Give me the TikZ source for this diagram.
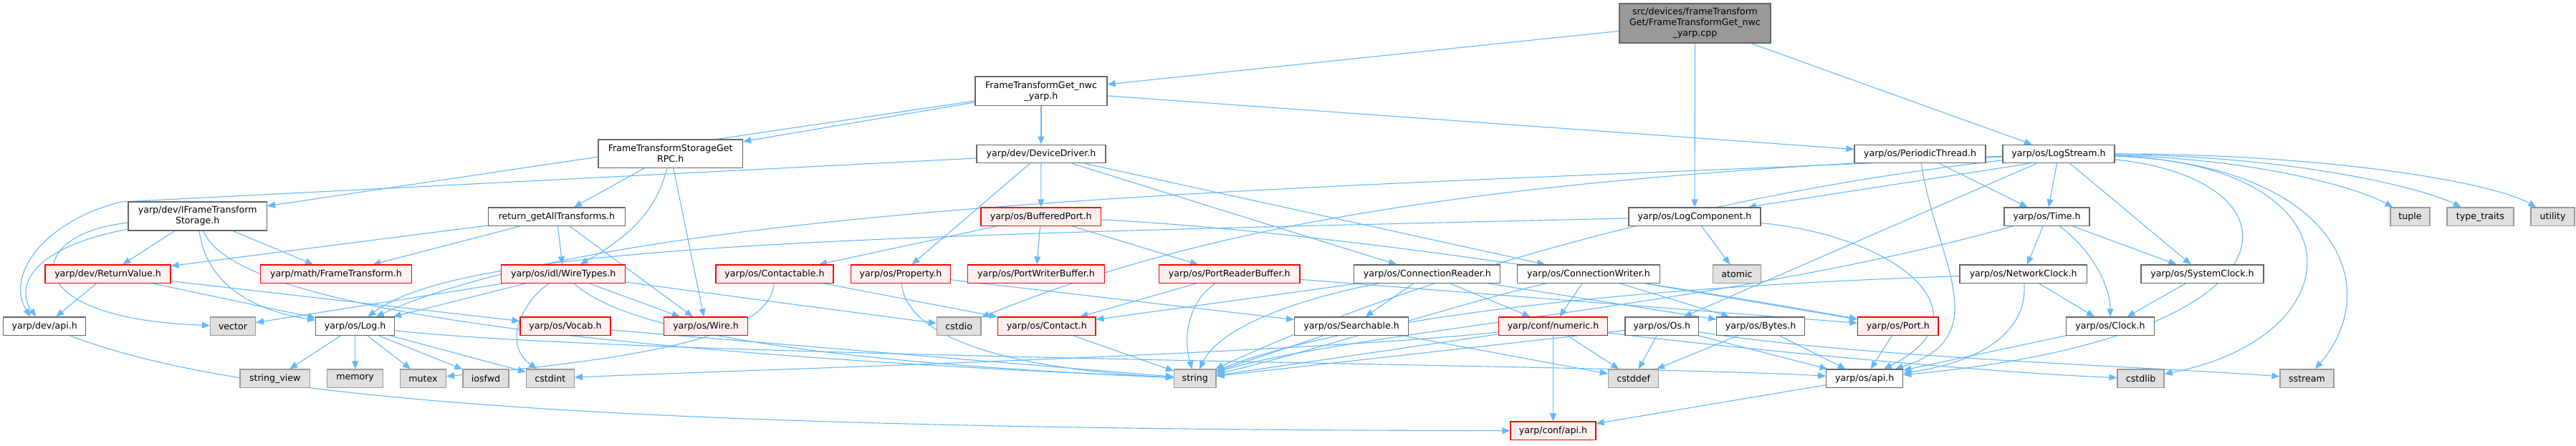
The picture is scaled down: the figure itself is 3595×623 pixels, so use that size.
\documentclass[tikz,border=0pt]{standalone}
\usepackage{fontspec}
\setmainfont{DejaVu Sans}
\usetikzlibrary{arrows.meta,backgrounds}
\definecolor{edgec}{HTML}{63B8FF}
\definecolor{bordc}{HTML}{666666}
\definecolor{sysb}{HTML}{999999}
\definecolor{sysf}{HTML}{E0E0E0}
\definecolor{trnf}{HTML}{FFF0F0}
\definecolor{mainf}{HTML}{999999}
\tikzset{
  nd/.style={draw=bordc, fill=white, line width=1.2pt, minimum height=25.5pt, inner sep=0pt, align=center, font=\fontsize{12.6}{15}\selectfont},
  sys/.style={nd, draw=sysb, fill=sysf},
  trn/.style={nd, draw=red, fill=trnf},
  mainnd/.style={nd, fill=mainf, draw=bordc},
  e/.style={draw=edgec, line width=1.1pt, -{Triangle[length=11pt,width=9pt]}, fill=none},
}
\begin{document}
\begin{tikzpicture}[x=1pt,y=-1pt]
\useasboundingbox (0,0) rectangle (3595,623);
% row 0-2
\node[mainnd, minimum width=211pt, minimum height=55pt] (main) at (2365.5,32.5) {src/devices/frameTransform\\Get/FrameTransformGet\_nwc\\\_yarp.cpp};
\node[nd, minimum width=184pt, minimum height=40.5pt] (ftget) at (1453,127.3) {FrameTransformGet\_nwc\\\_yarp.h};
\node[nd, minimum width=201.5pt, minimum height=39.5pt] (rpc) at (935.7,214.7) {FrameTransformStorageGet\\RPC.h};
\node[nd, minimum width=180pt] (devdrv) at (1453,215) {yarp/dev/DeviceDriver.h};
\node[nd, minimum width=183pt] (perthr) at (2679.5,215) {yarp/os/PeriodicThread.h};
\node[nd, minimum width=156pt] (logstream) at (2873,215) {yarp/os/LogStream.h};
% row 3
\node[nd, minimum width=193.5pt, minimum height=40pt] (ifts) at (275.7,302) {yarp/dev/IFrameTransform\\Storage.h};
\node[nd, minimum width=191pt] (retget) at (777,302.7) {return\_getAllTransforms.h};
\node[trn, minimum width=167.5pt] (bufport) at (1452.7,302.7) {yarp/os/BufferedPort.h};
\node[nd, minimum width=184pt] (logcomp) at (2365,302.7) {yarp/os/LogComponent.h};
\node[nd, minimum width=119pt] (timeh) at (2856.5,302.7) {yarp/os/Time.h};
\node[sys, minimum width=55pt] (tuple) at (3363.5,302.7) {tuple};
\node[sys, minimum width=93pt] (typetr) at (3461.5,302.7) {type\_traits};
\node[sys, minimum width=61pt] (utility) at (3562.5,302.7) {utility};
% row 4
\node[trn, minimum width=175pt] (retval) at (150.5,382.7) {yarp/dev/ReturnValue.h};
\node[trn, minimum width=211pt] (frametr) at (469,382.7) {yarp/math/FrameTransform.h};
\node[trn, minimum width=173pt] (wiretypes) at (786.2,382.7) {yarp/os/idl/WireTypes.h};
\node[trn, minimum width=164pt] (contactable) at (1081,382.7) {yarp/os/Contactable.h};
\node[trn, minimum width=138.5pt] (property) at (1257,382.7) {yarp/os/Property.h};
\node[trn, minimum width=191pt] (pwbuf) at (1446,382.7) {yarp/os/PortWriterBuffer.h};
\node[trn, minimum width=196.5pt] (prbuf) at (1715.7,382.7) {yarp/os/PortReaderBuffer.h};
\node[nd, minimum width=204pt] (connr) at (1991.8,382.7) {yarp/os/ConnectionReader.h};
\node[nd, minimum width=199pt] (connw) at (2217,382.7) {yarp/os/ConnectionWriter.h};
\node[sys, minimum width=67pt] (atomic) at (2424,382.7) {atomic};
\node[nd, minimum width=177.5pt] (netclock) at (2823.7,382.7) {yarp/os/NetworkClock.h};
\node[nd, minimum width=171pt] (sysclock) at (3073.5,382.7) {yarp/os/SystemClock.h};
% row 5
\node[nd, minimum width=115pt] (devapi) at (62.2,455.7) {yarp/dev/api.h};
\node[sys, minimum width=63pt] (vector) at (325,455.7) {vector};
\node[nd, minimum width=109.5pt] (logh) at (495.6,455.7) {yarp/os/Log.h};
\node[trn, minimum width=126pt] (vocab) at (789,455.7) {yarp/os/Vocab.h};
\node[trn, minimum width=116.7pt] (wire) at (985,455.7) {yarp/os/Wire.h};
\node[sys, minimum width=61.5pt] (cstdio) at (1338.2,455.7) {cstdio};
\node[trn, minimum width=136.4pt] (contact) at (1460.8,455.7) {yarp/os/Contact.h};
\node[nd, minimum width=159pt] (searchable) at (1886.2,455.7) {yarp/os/Searchable.h};
\node[trn, minimum width=152.3pt] (numeric) at (2167.5,455.7) {yarp/conf/numeric.h};
\node[nd, minimum width=102.6pt] (osh) at (2319.3,455.7) {yarp/os/Os.h};
\node[nd, minimum width=122.7pt] (bytes) at (2457.2,455.7) {yarp/os/Bytes.h};
\node[trn, minimum width=112.4pt] (port) at (2648.8,455.7) {yarp/os/Port.h};
\node[nd, minimum width=123pt] (clock) at (2945,455.7) {yarp/os/Clock.h};
% row 6
\node[sys, minimum width=97.6pt] (strview) at (383.8,528.7) {string\_view};
\node[sys, minimum width=78pt] (memory) at (495.6,528.7) {memory};
\node[sys, minimum width=64pt] (mutex) at (590.4,528.7) {mutex};
\node[sys, minimum width=64pt] (iosfwd) at (678,528.7) {iosfwd};
\node[sys, minimum width=67pt] (cstdint) at (767.8,528.7) {cstdint};
\node[sys, minimum width=58.5pt] (string) at (1667.8,528.7) {string};
\node[sys, minimum width=70.4pt] (cstddef) at (2279.6,528.7) {cstddef};
\node[nd, minimum width=107pt] (osapi) at (2602.2,528.7) {yarp/os/api.h};
\node[sys, minimum width=65pt] (cstdlib) at (2987.5,528.7) {cstdlib};
\node[sys, minimum width=75pt] (sstream) at (3219.5,528.7) {sstream};
% row 7
\node[trn, minimum width=119pt] (confapi) at (2167.5,601.7) {yarp/conf/api.h};

% ---- edges (behind the nodes) ----
\begin{pgfonlayer}{background}
\draw[e] (main) -- (ftget);
\draw[e] (main) -- (logcomp);
\draw[e] (main) -- (logstream);
\draw[e] (ftget) -- (ifts);
\draw[e] (ftget) -- (rpc);
\draw[e] (ftget) -- (devdrv);
\draw[e] (ftget) -- (perthr);
\draw[e] (rpc) -- (retget);
\draw[e] (rpc) .. controls (915,300) and (870,335) .. (wiretypes);
\draw[e] (rpc) -- (wire);
\draw[e] (retget) -- (wiretypes);
\draw[e] (retget) -- (wire);
\draw[e] (retget) -- (retval);
\draw[e] (retget) -- (frametr);
\draw[e] (ifts) .. controls (45,345) and (20,400) .. ([xshift=-12pt]devapi.north);
\draw[e] (ifts) .. controls (35,325) and (15,445) .. (vector);
\draw[e] ([yshift=-6pt]devdrv.west) -- (170,282) .. controls (70,305) and (5,380) .. ([xshift=-20pt]devapi.north);
\draw[e] (ifts) -- (retval);
\draw[e] (ifts) -- (frametr);
\draw[e] (ifts) .. controls (285,380) and (330,430) .. (logh);
\draw[e] (ifts) .. controls (330,440) and (900,495) .. (string);
\draw[e] (retval) -- (devapi);
\draw[e] (retval) -- (logh);
\draw[e] (retval) -- (vocab);
\draw[e] (devdrv) -- (property);
\draw[e] (devdrv) -- (bufport);
\draw[e] (devdrv) -- (connr);
\draw[e] (devdrv) -- (connw);
\draw[e] (perthr) -- (timeh);
\draw[e] (perthr) .. controls (2700,360) and (2790,470) .. (osapi);
\draw[e] (logstream) .. controls (3150,222) and (3290,262) .. (tuple);
\draw[e] (logstream) .. controls (3200,218) and (3380,262) .. (typetr);
\draw[e] (logstream) .. controls (3250,215) and (3480,255) .. (utility);
\draw[e] (logstream) .. controls (3260,230) and (3330,400) .. (sstream);
\draw[e] (logstream) .. controls (3300,230) and (3290,470) .. (cstdlib);
\draw[e] (logstream) .. controls (3220,250) and (3230,470) .. (osapi);
\draw[e] (logstream) -- (sysclock);
\draw[e] (logstream) -- (timeh);
\draw[e] ([xshift=-40pt]logstream.south) -- ([xshift=-18pt]logcomp.north east);
\draw[e] (logstream) .. controls (2000,260) and (900,270) .. (logh);
\draw[e] (logstream) -- (osh);
\draw[e] (logstream) .. controls (2300,280) and (1900,420) .. (string);
\draw[e] (logstream) .. controls (2000,250) and (1650,330) .. (cstdio);
\draw[e] (logcomp) .. controls (1200,330) and (650,340) .. (logh);
\draw[e] (logcomp) -- (atomic);
\draw[e] (logcomp) .. controls (2650,330) and (2780,440) .. (osapi);
\draw[e] (timeh) -- (netclock);
\draw[e] (timeh) -- (sysclock);
\draw[e] (timeh) .. controls (2920,350) and (2945,400) .. (clock);
\draw[e] (timeh) .. controls (2400,430) and (1900,460) .. (string);
\draw[e] (netclock) -- (clock);
\draw[e] (netclock) .. controls (2830,460) and (2770,505) .. (osapi);
\draw[e] (netclock) .. controls (2300,400) and (1900,440) .. (string);
\draw[e] (sysclock) -- (clock);
\draw[e] (clock) -- (osapi);
\draw[e] (osh) -- (osapi);
\draw[e] (osh) -- (cstddef);
\draw[e] (osh) -- (string);
\draw[e] (osh) .. controls (2600,500) and (3000,512) .. (sstream);
\draw[e] (bytes) -- (osapi);
\draw[e] (bytes) -- (cstddef);
\draw[e] (port) -- (osapi);
\draw[e] (numeric) -- (confapi);
\draw[e] (numeric) -- (cstddef);
\draw[e] (numeric) -- (string);
\draw[e] (numeric) .. controls (1800,495) and (1000,518) .. (cstdint);
\draw[e] (numeric) .. controls (2450,490) and (2800,522) .. (cstdlib);
\draw[e] (searchable) -- (string);
\draw[e] (searchable) -- (cstddef);
\draw[e] (connr) -- (searchable);
\draw[e] (connr) -- (numeric);
\draw[e] (connr) -- (bytes);
\draw[e] (connr) .. controls (1800,420) and (1700,460) .. (string);
\draw[e] (connr) -- (contact);
\draw[e] (connw) -- (numeric);
\draw[e] (connw) -- (bytes);
\draw[e] (connw) .. controls (2050,420) and (1800,500) .. (string);
\draw[e] (connw) -- (port);
\draw[e] (contactable) -- (contact);
\draw[e] (contactable) .. controls (1075,470) and (900,500) .. (mutex);
\draw[e] (property) -- (searchable);
\draw[e] (property) .. controls (1265,470) and (1400,515) .. (string);
\draw[e] (contact) -- (string);
\draw[e] (prbuf) -- (contact);
\draw[e] (prbuf) .. controls (1660,420) and (1650,470) .. (string);
\draw[e] (prbuf) -- (port);
\draw[e] (bufport) -- (pwbuf);
\draw[e] (bufport) -- (prbuf);
\draw[e] (bufport) -- (contactable);
\draw[e] (bufport) .. controls (1900,325) and (2450,420) .. (port);
\draw[e] (vocab) -- (string);
\draw[e] (wiretypes) -- (logh);
\draw[e] (wiretypes) -- (vector);
\draw[e] (wiretypes) .. controls (730,420) and (700,480) .. (cstdint);
\draw[e] (wiretypes) -- (wire);
\draw[e] (wiretypes) -- (cstdio);
\draw[e] (wiretypes) .. controls (850,440) and (1000,500) .. (string);
\draw[e] (logh) -- (strview);
\draw[e] (logh) -- (memory);
\draw[e] (logh) -- (mutex);
\draw[e] (logh) -- (iosfwd);
\draw[e] (logh) -- (cstdint);
\draw[e] (logh) .. controls (900,500) and (2300,510) .. (osapi);
\draw[e] (osapi) -- (confapi);
\draw[e] (devapi) .. controls (300,545) and (700,600) .. (confapi);
\end{pgfonlayer}
\end{tikzpicture}
\end{document}
